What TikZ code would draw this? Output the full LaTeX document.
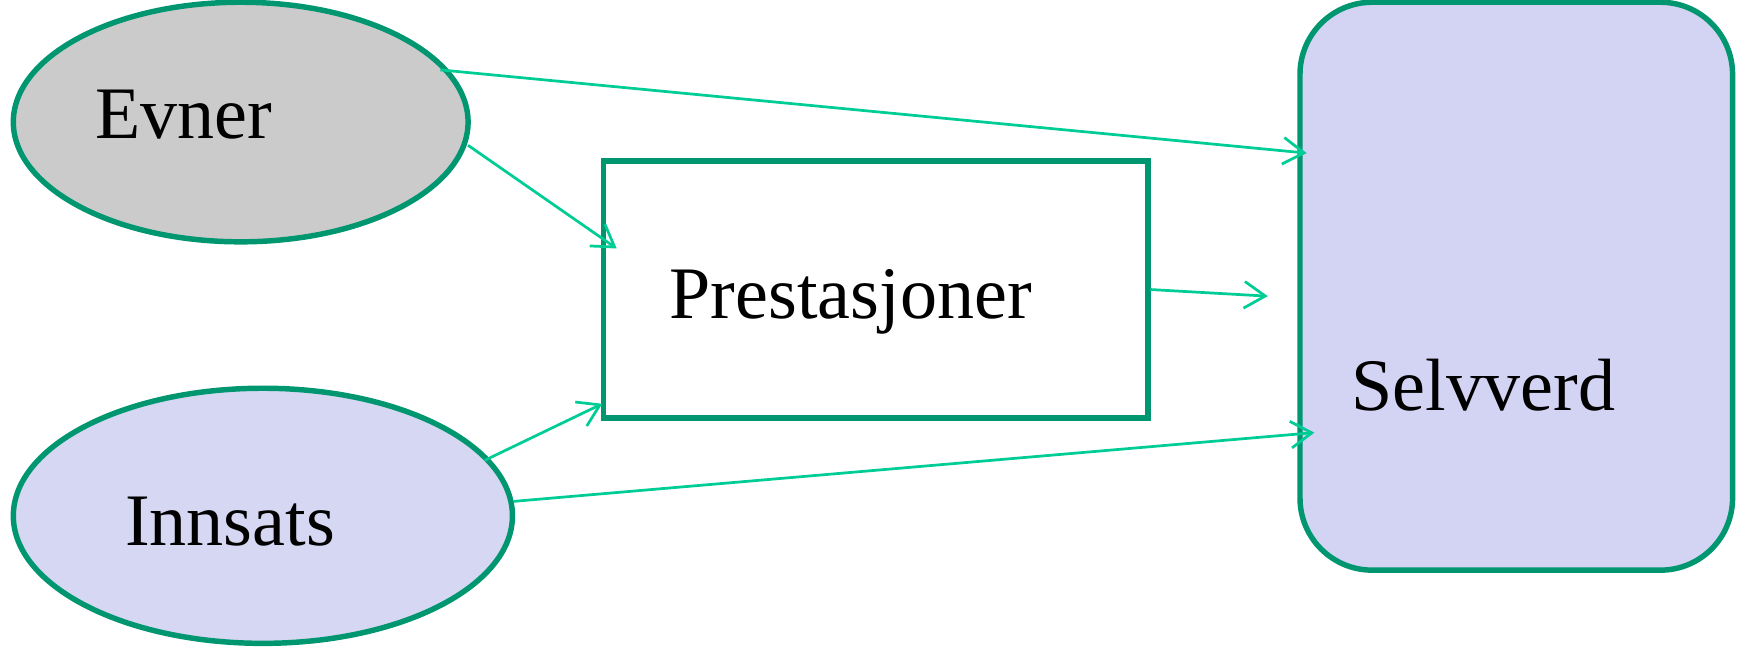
\documentclass[tikz,border=0pt]{standalone}
\usepackage{fontspec}
\setmainfont{Liberation Serif}
\usepackage{tikz}
\usetikzlibrary{calc,positioning,shapes.geometric,arrows.meta}

\definecolor{kant}{RGB}{0,150,112}
\definecolor{pil}{RGB}{0,204,150}
\definecolor{graa}{RGB}{203,203,203}
\definecolor{lilla}{RGB}{213,215,243}
\definecolor{selv}{RGB}{211,211,243}

\begin{document}
\begin{tikzpicture}[x=0.1mm, y=-0.1mm,
  felt/.style={draw=kant, line width=1.4pt, inner sep=0pt},
  link/.style={draw=pil, line width=0.7pt, -{Straight Barb[length=1.9mm,width=2.4mm]}},
  lbl/.style={anchor=base west, inner sep=0pt, font=\fontsize{19}{22}\selectfont}]

\useasboundingbox (0,0) rectangle (1566,584);

% boksene
\node[felt, ellipse, fill=graa, minimum width=41mm, minimum height=21.6mm] (evner) at (217,110) {};
\node[felt, ellipse, fill=lilla, minimum width=45mm, minimum height=23mm] (innsats) at (237,465) {};
\node[felt, rectangle, fill=white, minimum width=49.1mm, minimum height=23.2mm] (presta) at (789.5,261) {};
\node[felt, rectangle, rounded corners=6.5mm, fill=selv, minimum width=39mm, minimum height=51.2mm] (selvverd) at (1367,258) {};

% tekst
\node[lbl] (evnerT) at (85,125) {Evner};
\node[lbl] (innsatsT) at (112,492) {Innsats};
\node[lbl] (prestaT) at (603,287) {Prestasjoner};
\node[lbl] (selvT) at (1218,370) {Selvverd};

% endepunkter
\coordinate (e1) at (397,63);   \coordinate (s1) at (1178,138);
\coordinate (e2) at (422,131);  \coordinate (p2) at (556,224);
\coordinate (p3) at (1037,261); \coordinate (s3) at (1143,267);
\coordinate (i4) at (437,415);  \coordinate (p4) at (543,364);
\coordinate (i5) at (463,452);  \coordinate (s5) at (1185,390);

\draw[link] (e1) -- (s1);
\draw[link] (e2) -- (p2);
\draw[link] (p3) -- (s3);
\draw[link] (i4) -- (p4);
\draw[link] (i5) -- (s5);
\end{tikzpicture}
\end{document}
